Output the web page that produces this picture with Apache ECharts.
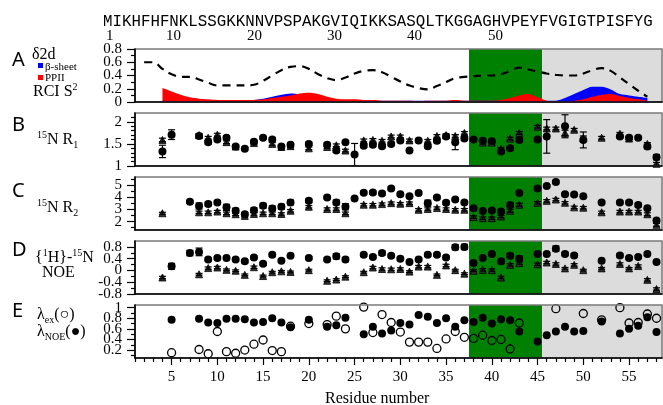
<!DOCTYPE html>
<html>
<head>
<meta charset="utf-8">
<script src="https://cdn.jsdelivr.net/npm/echarts@6/dist/echarts.min.js"></script>
<style>
  html, body { margin: 0; padding: 0; background: #fff; }
  #chart { width: 663px; height: 405px; }
</style>
</head>
<body>
<div id="chart"></div>
<script>
// ---- Sequence header ----
const sequence = 'MIKHFHFNKLSSGKKNNVPSPAKGVIQIKKSASQLTKGGAGHVPEYFVGIGTPISFYG';
const sequenceNumbers = ['1', '10', '20', '30', '40', '50'];

// ---- Panel A: secondary structure populations and RCI order parameter ----
const ssResidues = [4,5,6,7,8,9,10,11,12,13,14,15,16,17,18,19,20,21,22,23,24,25,26,27,28,29,30,31,32,33,34,35,36,37,38,39,40,41,42,43,44,45,46,47,48,49,50,51,52,53,54,55,56,57];
const ppii = [0.21,0.16,0.11,0.07,0.05,0.04,0.03,0.03,0.03,0.03,0.03,0.04,0.06,0.08,0.10,0.13,0.14,0.12,0.08,0.05,0.04,0.04,0.03,0.03,0.02,0.02,0.02,0.02,0.01,0.02,0.02,0.02,0.03,0.02,0.02,0.02,0.02,0.03,0.06,0.10,0.12,0.07,0.02,0.01,0.01,0.02,0.04,0.08,0.11,0.12,0.09,0.06,0.04,0.02];
const betaSheet = [0.02,0.02,0.02,0.02,0.02,0.02,0.02,0.02,0.02,0.02,0.03,0.05,0.08,0.11,0.13,0.12,0.10,0.07,0.04,0.03,0.02,0.02,0.02,0.02,0.02,0.02,0.02,0.02,0.02,0.02,0.02,0.02,0.02,0.02,0.02,0.02,0.02,0.02,0.02,0.02,0.02,0.02,0.02,0.02,0.06,0.12,0.18,0.23,0.23,0.19,0.12,0.10,0.08,0.06];
const helixResidues = [4, 57];
const helix = [0.005, 0.005];
const rciResidues = [2,3,4,5,6,7,8,9,10,11,12,13,14,15,16,17,18,19,20,21,22,23,24,25,26,27,28,29,30,31,32,33,34,35,36,37,38,39,40,41,42,43,44,45,46,47,48,49,50,51,52,53,54,55,56,57];
const rciS2 = [0.60,0.60,0.50,0.42,0.38,0.38,0.34,0.29,0.25,0.25,0.25,0.25,0.26,0.32,0.40,0.48,0.53,0.54,0.50,0.42,0.36,0.33,0.37,0.43,0.47,0.48,0.45,0.38,0.31,0.25,0.21,0.19,0.24,0.30,0.36,0.38,0.39,0.40,0.40,0.42,0.47,0.52,0.49,0.46,0.43,0.41,0.40,0.40,0.43,0.48,0.51,0.47,0.37,0.27,0.17,0.08];

// ---- Panel B: 15N R1 ----
const r1CircleRes = [4,5,8,9,10,11,12,13,14,15,16,17,18,20,22,23,24,25,26,27,28,29,30,31,32,33,34,35,36,37,38,39,40,41,42,43,45,46,48,50,54,55,56,57,58];
const r1Circle = [1.33,1.71,1.68,1.54,1.60,1.64,1.44,1.39,1.55,1.64,1.60,1.44,1.48,1.50,1.48,1.35,1.54,1.26,1.46,1.48,1.45,1.50,1.58,1.35,1.58,1.45,1.57,1.67,1.54,1.62,1.60,1.57,1.56,1.33,1.40,1.59,1.60,1.67,1.90,1.59,1.67,1.64,1.64,1.44,1.20];
const r1CircleErr = [0.14,0.11,0.04,0.04,0.04,0.04,0.03,0.03,0.04,0.03,0.04,0.03,0.04,0.04,0.04,0.04,0.03,0.25,0.04,0.04,0.04,0.04,0.04,0.03,0.03,0.04,0.04,0.03,0.17,0.04,0.03,0.04,0.04,0.04,0.05,0.05,0.03,0.38,0.26,0.18,0.04,0.03,0.03,0.05,0.06];
const r1TriRes = [4,8,9,10,11,12,14,16,17,18,20,22,23,24,26,27,28,29,30,31,33,34,35,36,37,39,40,41,42,43,45,46,47,48,49,50,52,54,55,57,58];
const r1Tri = [1.59,1.70,1.64,1.71,1.54,1.44,1.52,1.50,1.43,1.45,1.40,1.43,1.47,1.35,1.58,1.59,1.57,1.67,1.67,1.58,1.57,1.68,1.70,1.68,1.75,1.53,1.53,1.39,1.62,1.75,1.89,1.85,1.85,1.75,1.82,1.63,1.64,1.73,1.62,1.50,1.05];
const r1TriErr = [0.04,0.03,0.03,0.03,0.03,0.03,0.03,0.03,0.03,0.03,0.03,0.03,0.03,0.03,0.03,0.03,0.03,0.03,0.03,0.03,0.03,0.03,0.03,0.03,0.03,0.03,0.03,0.03,0.03,0.03,0.03,0.03,0.03,0.06,0.03,0.05,0.03,0.03,0.03,0.03,0.03];

// ---- Panel C: 15N R2 ----
const r2CircleRes = [7,8,9,10,11,12,13,14,15,16,17,18,20,22,23,24,25,26,27,28,29,30,31,32,33,34,35,36,37,38,39,40,41,42,43,45,46,47,48,49,50,52,54,55,56,57,58];
const r2Circle = [3.64,3.29,3.45,3.59,3.18,2.90,2.61,2.95,3.31,3.09,3.23,3.59,3.72,4.00,3.59,3.23,3.91,4.40,4.41,4.33,4.74,4.27,4.11,4.38,3.53,4.00,3.56,3.83,3.59,3.10,2.88,2.91,2.83,3.37,4.38,4.74,4.95,5.28,4.27,4.24,4.11,3.59,3.59,3.59,3.37,3.10,2.08];
const r2CircleErr = [0.12,0.25,0.15,0.15,0.25,0.2,0.15,0.2,0.2,0.2,0.2,0.2,0.15,0.12,0.2,0.25,0.12,0.12,0.15,0.12,0.12,0.12,0.12,0.12,0.25,0.12,0.15,0.12,0.12,0.15,0.12,0.12,0.15,0.15,0.12,0.12,0.12,0.15,0.12,0.12,0.12,0.12,0.12,0.12,0.15,0.15,0.15];
const r2TriRes = [4,8,9,10,11,12,13,14,15,16,17,18,20,22,23,24,26,27,28,29,30,31,32,33,34,35,36,37,38,39,40,41,42,43,45,46,47,48,49,50,52,54,55,56,57,58];
const r2Tri = [2.69,2.77,2.77,2.83,2.69,2.61,2.47,2.63,2.69,2.69,2.63,2.90,3.23,3.04,3.04,2.69,3.40,3.40,3.45,3.53,3.48,3.53,2.98,3.04,3.12,3.04,2.98,2.98,2.37,2.28,2.28,2.42,2.90,3.40,3.56,3.72,3.83,3.56,3.18,3.15,2.77,2.83,2.83,2.83,2.61,1.73];
const r2TriErr = [0.08,0.1,0.1,0.1,0.1,0.1,0.1,0.1,0.1,0.1,0.1,0.1,0.1,0.1,0.1,0.1,0.1,0.1,0.1,0.1,0.1,0.1,0.1,0.1,0.1,0.1,0.1,0.1,0.1,0.1,0.1,0.1,0.12,0.12,0.1,0.1,0.1,0.1,0.1,0.1,0.1,0.1,0.1,0.1,0.12,0.12];

// ---- Panel D: {1H}-15N NOE ----
const noeCircleRes = [5,7,8,9,10,11,12,13,14,15,16,17,18,20,22,23,24,26,27,28,29,30,31,32,33,34,35,36,37,38,39,40,41,42,43,45,46,47,48,49,52,54,55,56,57,58];
const noeCircle = [0.14,0.59,0.63,0.37,0.42,0.42,0.37,0.31,0.44,0.23,0.53,0.33,0.50,0.42,0.37,0.48,0.37,0.53,0.46,0.59,0.50,0.40,0.29,0.37,0.53,0.53,0.44,0.79,0.80,0.25,0.42,0.56,0.31,0.50,0.40,0.56,0.56,0.74,0.56,0.51,0.33,0.51,0.42,0.46,0.56,0.29];
const noeCircleErr = [0.10,0.09,0.13,0.05,0.05,0.05,0.05,0.06,0.05,0.05,0.06,0.05,0.05,0.05,0.05,0.09,0.07,0.05,0.05,0.07,0.05,0.05,0.05,0.05,0.05,0.05,0.05,0.09,0.09,0.05,0.05,0.05,0.08,0.08,0.09,0.05,0.05,0.09,0.06,0.06,0.05,0.06,0.05,0.05,0.05,0.05];
const noeTriRes = [4,8,9,10,11,12,13,14,15,16,17,18,20,22,23,24,26,27,28,29,30,31,32,33,34,35,36,37,38,39,40,41,42,43,45,46,47,48,49,50,52,54,55,56,57,58];
const noeTri = [-0.24,-0.13,0.08,0.10,0.02,-0.01,-0.15,0.11,-0.19,-0.06,-0.03,-0.05,0.01,-0.35,-0.31,-0.21,-0.06,0.10,0.05,0.04,0.05,-0.04,0.13,0.13,-0.15,0.17,0.01,-0.11,-0.01,0.02,0.01,-0.24,0.19,0.25,0.21,0.27,0.22,0.07,0.19,0.01,0.07,0.22,0.07,0.15,-0.32,-0.63];
const noeTriErr = [0.04,0.03,0.04,0.04,0.03,0.03,0.03,0.04,0.03,0.03,0.03,0.03,0.03,0.03,0.03,0.03,0.03,0.04,0.04,0.04,0.04,0.03,0.04,0.04,0.03,0.04,0.03,0.03,0.03,0.04,0.04,0.04,0.04,0.04,0.04,0.04,0.04,0.03,0.04,0.03,0.03,0.04,0.03,0.04,0.04,0.04];

// ---- Panel E: lambda parameters ----
const lamNoeRes = [5,8,9,10,11,12,13,14,15,16,17,18,20,22,23,24,26,27,28,29,30,31,32,33,34,35,36,37,38,39,40,41,42,43,45,46,47,48,49,50,52,54,55,56,57,58];
const lamNoe = [0.77,0.79,0.72,0.71,0.79,0.79,0.78,0.72,0.73,0.80,0.72,0.63,0.77,0.64,0.67,0.81,0.50,0.64,0.51,0.57,0.71,0.68,0.86,0.83,0.71,0.80,0.64,0.76,0.73,0.81,0.70,0.78,0.76,0.55,0.36,0.48,0.55,0.64,0.55,0.56,0.74,0.51,0.60,0.66,0.82,0.54];
const lamExRes = [5,8,9,10,11,12,13,14,15,16,17,18,20,22,23,24,26,27,28,29,30,31,32,33,34,35,36,37,38,39,40,41,42,43,47,50,52,54,55,56,57,58];
const lamEx = [0.15,0.21,0.13,0.55,0.17,0.14,0.20,0.31,0.39,0.19,0.17,0.65,0.70,0.68,0.84,0.60,1.01,0.53,0.87,0.72,0.54,0.35,0.35,0.35,0.23,0.41,0.55,0.44,0.42,0.48,0.38,0.40,0.22,0.71,0.98,0.89,0.77,1.00,0.71,0.72,0.88,0.80];

// ---- Axis ticks and labels ----
const residueLabels = [5,10,15,20,25,30,35,40,45,50,55];
const residueMinorTicks = [1,2,3,4,6,7,8,9,11,12,13,14,16,17,18,19,21,22,23,24,26,27,28,29,31,32,33,34,36,37,38,39,41,42,43,44,46,47,48,49,51,52,53,54,56,57,58];
const yRanges = [[0, 0.8], [1, 2.2], [1.3, 5.7], [-0.8, 1.0], [0.05, 1.05]];
const yLabels = [[0,0.2,0.4,0.6,0.8],[1,1.5,2],[2,3,4,5],[-0.8,-0.4,0,0.4,0.8],[0.2,0.4,0.6,0.8,1]];
const yMinorTicks = [[0.1,0.3,0.5,0.7],[1.1,1.2,1.3,1.4,1.6,1.7,1.8,1.9,2.1],[1.5,2.5,3.5,4.5,5.5],[-0.6,-0.2,0.2,0.6],[0.1,0.3,0.5,0.7,0.9]];

// ---- Shaded residue regions ----
const greenRegion = [37.5, 45.5];
const grayRegion = [45.5, 58.6];

const X_MIN = 1, X_MAX = 58.6;
const GRID_LEFT = 135, GRID_W = 527;
const SERIF = "'Liberation Serif', 'Times New Roman', serif";
const SANS = "'Noto Sans', 'DejaVu Sans', sans-serif";
const panelTops = [49, 113, 177, 241, 305];
const PANEL_H = 53;

const pairs = (xs, ys) => xs.map((x, i) => [x, ys[i]]);
const triples = (xs, ys, es) => xs.map((x, i) => [x, ys[i], es[i]]);

const grids = [], xAxes = [], yAxes = [], series = [];
const xIdx = [], yIdx = [];

const labelStyle = { fontFamily: SERIF, fontSize: 15, color: '#000', margin: 13,
  showMinLabel: true, showMaxLabel: true, hideOverlap: false };

panelTops.forEach((top, i) => {
  const last = i === panelTops.length - 1;
  grids.push({ left: GRID_LEFT, width: GRID_W, top: top, height: PANEL_H, show: true,
    backgroundColor: 'transparent', borderColor: '#7a7a7a', borderWidth: 1.5, z: 8 });
  xIdx.push(xAxes.length);
  xAxes.push({ gridIndex: i, type: 'value', min: X_MIN, max: X_MAX, position: 'bottom', z: 10,
    axisLine: { show: true, onZero: false, lineStyle: { color: '#000', width: 1.6 } },
    axisTick: { show: last, customValues: residueLabels, length: 7, lineStyle: { color: '#000', width: 1.2 } },
    axisLabel: Object.assign({ show: last, customValues: residueLabels }, labelStyle, { margin: 12 }),
    splitLine: { show: false } });
  if (last) {
    // minor residue ticks
    xAxes.push({ gridIndex: i, type: 'value', min: X_MIN, max: X_MAX, position: 'bottom', z: 10,
      axisLine: { show: false },
      axisTick: { show: true, customValues: residueMinorTicks, length: 4, lineStyle: { color: '#000', width: 1.2 } },
      axisLabel: { show: false }, splitLine: { show: false } });
  }
  // value labels alternate between two axes so that crowded labels all stay visible
  const labelsA = yLabels[i].filter((v, k) => k % 2 === 0);
  const labelsB = yLabels[i].filter((v, k) => k % 2 === 1);
  yIdx.push(yAxes.length);
  yAxes.push({ gridIndex: i, type: 'value', min: yRanges[i][0], max: yRanges[i][1], position: 'left', z: 10,
    axisLine: { show: true, onZero: false, lineStyle: { color: '#000', width: 1.6 } },
    axisTick: { show: true, customValues: yLabels[i], length: 8, lineStyle: { color: '#000', width: 1.2 } },
    axisLabel: Object.assign({ show: true, customValues: labelsA }, labelStyle),
    splitLine: { show: false } });
  yAxes.push({ gridIndex: i, type: 'value', min: yRanges[i][0], max: yRanges[i][1], position: 'left', z: 10,
    axisLine: { show: false }, axisTick: { show: false },
    axisLabel: Object.assign({ show: true, customValues: labelsB }, labelStyle),
    splitLine: { show: false } });
  // minor value ticks
  yAxes.push({ gridIndex: i, type: 'value', min: yRanges[i][0], max: yRanges[i][1], position: 'left', z: 10,
    axisLine: { show: false },
    axisTick: { show: true, customValues: yMinorTicks[i], length: 4, lineStyle: { color: '#000', width: 1.2 } },
    axisLabel: { show: false }, splitLine: { show: false } });

  // background shading
  series.push({ type: 'line', xAxisIndex: xIdx[i], yAxisIndex: yIdx[i], data: [], z: 0, silent: true,
    markArea: { silent: true, data: [
      [{ xAxis: greenRegion[0], itemStyle: { color: '#008000', opacity: 1 } }, { xAxis: greenRegion[1] }],
      [{ xAxis: grayRegion[0], itemStyle: { color: '#dcdcdc', opacity: 1 } }, { xAxis: grayRegion[1] }]
    ] } });
});

// Panel A
series.push({ type: 'line', xAxisIndex: xIdx[0], yAxisIndex: yIdx[0], data: pairs(ssResidues, betaSheet),
  smooth: 0.3, symbol: 'none', lineStyle: { width: 0 }, areaStyle: { color: '#0000ff', opacity: 1 }, z: 2 });
series.push({ type: 'line', xAxisIndex: xIdx[0], yAxisIndex: yIdx[0], data: pairs(ssResidues, ppii),
  smooth: 0.3, symbol: 'none', lineStyle: { width: 0 }, areaStyle: { color: '#ff0000', opacity: 1 }, z: 3 });
series.push({ type: 'line', xAxisIndex: xIdx[0], yAxisIndex: yIdx[0], data: pairs(helixResidues, helix),
  symbol: 'none', lineStyle: { color: '#e000e0', width: 1.5 }, z: 4 });
series.push({ type: 'line', xAxisIndex: xIdx[0], yAxisIndex: yIdx[0], data: pairs(rciResidues, rciS2),
  smooth: 0.4, symbol: 'none', lineStyle: { color: '#000', width: 2.2, type: [8, 6] }, z: 5 });

// error bars with caps
function errorBar(params, api) {
  const x = api.value(0), y = api.value(1), e = api.value(2);
  const hi = api.coord([x, y + e]);
  const lo = api.coord([x, y - e]);
  const w = 3.5;
  const st = { stroke: '#000', lineWidth: 1.2 };
  return { type: 'group', children: [
    { type: 'line', shape: { x1: hi[0], y1: hi[1], x2: lo[0], y2: lo[1] }, style: st },
    { type: 'line', shape: { x1: hi[0] - w, y1: hi[1], x2: hi[0] + w, y2: hi[1] }, style: st },
    { type: 'line', shape: { x1: lo[0] - w, y1: lo[1], x2: lo[0] + w, y2: lo[1] }, style: st }
  ] };
}
function addRelaxationPanel(i, cRes, cVal, cErr, tRes, tVal, tErr) {
  series.push({ type: 'scatter', xAxisIndex: xIdx[i], yAxisIndex: yIdx[i], data: pairs(tRes, tVal),
    symbol: 'triangle', symbolSize: 7, itemStyle: { color: '#333', borderColor: '#000', borderWidth: 0.8, opacity: 1 }, z: 3 });
  series.push({ type: 'custom', xAxisIndex: xIdx[i], yAxisIndex: yIdx[i], data: triples(tRes, tVal, tErr),
    renderItem: errorBar, z: 4 });
  series.push({ type: 'custom', xAxisIndex: xIdx[i], yAxisIndex: yIdx[i], data: triples(cRes, cVal, cErr),
    renderItem: errorBar, z: 4 });
  series.push({ type: 'scatter', xAxisIndex: xIdx[i], yAxisIndex: yIdx[i], data: pairs(cRes, cVal),
    symbol: 'circle', symbolSize: 8, itemStyle: { color: '#000', opacity: 1 }, z: 5 });
}
addRelaxationPanel(1, r1CircleRes, r1Circle, r1CircleErr, r1TriRes, r1Tri, r1TriErr);
addRelaxationPanel(2, r2CircleRes, r2Circle, r2CircleErr, r2TriRes, r2Tri, r2TriErr);
addRelaxationPanel(3, noeCircleRes, noeCircle, noeCircleErr, noeTriRes, noeTri, noeTriErr);

// Panel E
series.push({ type: 'scatter', xAxisIndex: xIdx[4], yAxisIndex: yIdx[4], data: pairs(lamNoeRes, lamNoe),
  symbol: 'circle', symbolSize: 8, itemStyle: { color: '#000', opacity: 1 }, z: 3 });
series.push({ type: 'scatter', xAxisIndex: xIdx[4], yAxisIndex: yIdx[4], data: pairs(lamExRes, lamEx),
  symbol: 'circle', symbolSize: 8, itemStyle: { color: 'rgba(0,0,0,0)', borderColor: '#000', borderWidth: 1.3, opacity: 1 }, z: 4 });

// ---- Text: header, panel letters and row titles ----
const rich = {
  sup: { fontFamily: SERIF, fontSize: 10, lineHeight: 10, verticalAlign: 'top', fill: '#000' },
  sub: { fontFamily: SERIF, fontSize: 10, lineHeight: 10, verticalAlign: 'bottom', fill: '#000' }
};
function txt(x, y, text, font, size, extra) {
  return { type: 'text', x: x, y: y, z: 20, silent: true,
    style: Object.assign({ text: text, fontFamily: font, fontSize: size, fill: '#000',
      align: 'left', verticalAlign: 'middle', lineHeight: 20, rich: rich }, extra || {}) };
}
const seqNumberX = [106, 166, 247, 327, 407, 488];
const graphics = [
  txt(103, 22, sequence, "'Liberation Mono', 'DejaVu Sans Mono', monospace", 15.8),
  ...sequenceNumbers.map((n, k) => txt(seqNumberX[k], 36, n, SERIF, 15)),
  txt(12, 60, 'A', SANS, 20), txt(12, 125, 'B', SANS, 20), txt(12, 191, 'C', SANS, 20),
  txt(12, 250, 'D', SANS, 20), txt(12, 311, 'E', SANS, 20),
  txt(32, 55, 'δ2d', SERIF, 16),
  { type: 'rect', x: 38, y: 63, shape: { width: 5, height: 5 }, style: { fill: '#0000ff' }, z: 20 },
  txt(45, 67, 'β-sheet', SERIF, 11),
  { type: 'rect', x: 38, y: 75, shape: { width: 5, height: 5 }, style: { fill: '#ff0000' }, z: 20 },
  txt(45, 78.5, 'PPII', SERIF, 11),
  txt(33, 92, 'RCI S{sup|2}', SERIF, 16),
  txt(37, 140, '{sup|15}N R{sub|1}', SERIF, 16),
  txt(37, 208, '{sup|15}N R{sub|2}', SERIF, 16),
  txt(35, 258, '{{sup|1}H}-{sup|15}N', SERIF, 16),
  txt(42, 273, 'NOE', SERIF, 16),
  txt(37, 315, 'λ{sub|ex}(○)', SERIF, 16),
  txt(37, 332, 'λ{sub|NOE}(●)', SERIF, 16),
  txt(325, 399, 'Residue number', SERIF, 16)
];

const chart = echarts.init(document.getElementById('chart'), null, { renderer: 'canvas' });
chart.setOption({
  animation: false,
  backgroundColor: '#fff',
  grid: grids,
  xAxis: xAxes,
  yAxis: yAxes,
  series: series,
  graphic: graphics
});
</script>
</body>
</html>
